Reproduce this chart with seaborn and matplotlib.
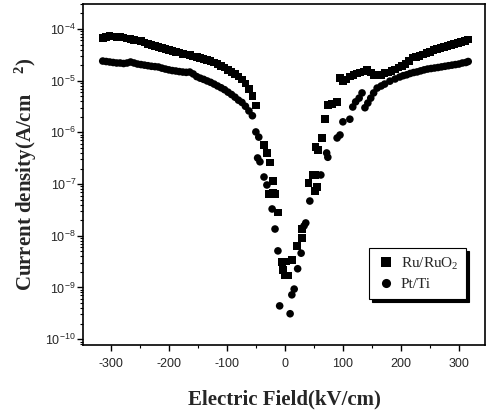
import matplotlib
matplotlib.use('Agg')
import numpy as np
import pandas as pd
import matplotlib.pyplot as plt
import seaborn as sns
from matplotlib.ticker import LogLocator, MultipleLocator, NullFormatter, FixedLocator

# ---- data (field in kV/cm, current density in A/cm^2)
ru_field = [-314, -308, -302, -296, -290, -284, -278, -272, -266, -260, -254, -248,
            -242, -236, -230, -224, -218, -212, -206, -200, -194, -188, -182, -176,
            -170, -164, -158, -152, -146, -140, -134, -128, -122, -116, -110, -104,
            -98, -92, -86, -80, -74, -68, -62, -56, -50,
            -36, -31, -26, -21, -28, -17, -21, -12, -5, 3, 12, -3, -1, 5,
            21, 29, 29, 41, 48, 53, 52, 55, 53, 57, 64, 69, 74, 81, 90,
            95, 100, 106, 112, 118, 124, 130, 136, 142, 148, 154, 160, 166, 172,
            178, 184, 190, 196, 202, 208, 214, 220, 226, 232, 238, 244, 250, 256,
            262, 268, 274, 280, 286, 292, 298, 304, 310, 316]
ru_current = [6.7e-5, 7.1e-5, 7.3e-5, 7.2e-5, 7.0e-5, 7.0e-5, 6.8e-5, 6.6e-5, 6.4e-5, 6.2e-5, 6.0e-5, 5.8e-5,
              5.5e-5, 5.1e-5, 4.9e-5, 4.7e-5, 4.5e-5, 4.3e-5, 4.1e-5, 3.9e-5, 3.8e-5, 3.6e-5, 3.5e-5, 3.3e-5,
              3.2e-5, 3.1e-5, 2.95e-5, 2.85e-5, 2.75e-5, 2.6e-5, 2.5e-5, 2.4e-5, 2.25e-5, 2.1e-5, 1.95e-5, 1.8e-5,
              1.62e-5, 1.48e-5, 1.35e-5, 1.2e-5, 1.05e-5, 8.8e-6, 7.0e-6, 5.0e-6, 3.3e-6,
              5.7e-7, 4.0e-7, 2.6e-7, 1.15e-7, 6.4e-8, 6.4e-8, 6.7e-8, 2.8e-8, 3.1e-9, 3.2e-9, 3.4e-9, 2.2e-9, 1.7e-9, 1.7e-9,
              6.4e-9, 9.1e-9, 1.35e-8, 1.05e-7, 1.5e-7, 1.5e-7, 7.4e-8, 8.8e-8, 5.2e-7, 4.6e-7, 7.8e-7, 1.8e-6, 3.4e-6, 3.5e-6, 3.9e-6,
              1.13e-5, 9.8e-6, 1.05e-5, 1.2e-5, 1.3e-5, 1.38e-5, 1.45e-5, 1.5e-5, 1.6e-5, 1.45e-5, 1.3e-5, 1.25e-5, 1.3e-5, 1.4e-5,
              1.45e-5, 1.55e-5, 1.65e-5, 1.8e-5, 1.95e-5, 2.1e-5, 2.4e-5, 2.8e-5, 2.9e-5, 3.0e-5, 3.2e-5, 3.4e-5, 3.6e-5, 3.9e-5,
              4.1e-5, 4.3e-5, 4.5e-5, 4.7e-5, 4.9e-5, 5.1e-5, 5.4e-5, 5.6e-5, 5.9e-5, 6.3e-5]

pt_field = [-314, -308, -302, -296, -290, -284, -278, -272, -266, -260, -254, -248,
            -242, -236, -230, -224, -218, -212, -206, -200, -194, -188, -182, -176,
            -170, -164, -158, -152, -146, -140, -134, -128, -122, -116, -110, -104,
            -98, -92, -86, -80, -74, -68, -62, -56,
            -50, -45, -47, -43, -36, -31, -22, -17, -12, -9, 9, 12, 16, 22, 28,
            33, 36, 43, 62, 72, 74, 90, 95, 100, 112,
            117, 122, 128, 133, 138, 143, 148, 153, 159,
            166, 172, 181, 190, 198, 204, 210, 216, 222, 228, 234, 240, 246, 252,
            258, 264, 270, 276, 282, 288, 294, 300, 306, 312, 316]
pt_current = [2.4e-5, 2.35e-5, 2.3e-5, 2.25e-5, 2.2e-5, 2.2e-5, 2.15e-5, 2.2e-5, 2.3e-5, 2.2e-5, 2.1e-5, 2.05e-5,
              2.0e-5, 1.95e-5, 1.9e-5, 1.87e-5, 1.84e-5, 1.75e-5, 1.68e-5, 1.62e-5, 1.57e-5, 1.54e-5, 1.5e-5, 1.47e-5,
              1.45e-5, 1.47e-5, 1.35e-5, 1.2e-5, 1.12e-5, 1.06e-5, 9.9e-6, 9.3e-6, 8.6e-6, 7.9e-6, 7.3e-6, 6.7e-6,
              6.0e-6, 5.4e-6, 4.8e-6, 4.2e-6, 3.8e-6, 3.2e-6, 2.6e-6, 2.1e-6,
              1.02e-6, 8.1e-7, 3.2e-7, 2.7e-7, 1.37e-7, 9.6e-8, 3.3e-8, 1.35e-8, 5.1e-9, 4.4e-10, 3.1e-10, 7.2e-10, 9.3e-10, 2.3e-9, 4.6e-9,
              1.55e-8, 1.77e-8, 4.7e-8, 1.5e-7, 4.0e-7, 3.3e-7, 7.8e-7, 8.9e-7, 1.6e-6, 1.8e-6,
              3.1e-6, 3.9e-6, 4.6e-6, 5.8e-6, 3.0e-6, 3.7e-6, 4.6e-6, 5.8e-6, 7.2e-6,
              7.9e-6, 8.6e-6, 9.8e-6, 1.08e-5, 1.18e-5, 1.25e-5, 1.3e-5, 1.38e-5, 1.44e-5, 1.48e-5, 1.55e-5, 1.62e-5, 1.68e-5, 1.72e-5,
              1.76e-5, 1.8e-5, 1.85e-5, 1.9e-5, 1.95e-5, 2.0e-5, 2.05e-5, 2.1e-5, 2.2e-5, 2.25e-5, 2.35e-5]

sample_names = ['Ru/RuO$_2$', 'Pt/Ti']
x_ticks = [-300, -200, -100, 0, 100, 200, 300]
y_ticks = [1e-10, 1e-9, 1e-8, 1e-7, 1e-6, 1e-5, 1e-4]
y_ticklabels = ['10$^{-10}$', '10$^{-9}$', '10$^{-8}$', '10$^{-7}$', '10$^{-6}$', '10$^{-5}$', '10$^{-4}$']

sns.set_style('ticks')
plt.rcParams['font.family'] = ['Liberation Sans', 'DejaVu Sans']
plt.rcParams['mathtext.default'] = 'regular'
plt.rcParams['axes.unicode_minus'] = False

df = pd.DataFrame({
    'field': ru_field + pt_field,
    'current': ru_current + pt_current,
    'sample': [sample_names[0]] * len(ru_field) + [sample_names[1]] * len(pt_field),
})

fig = plt.figure(figsize=(4.86, 4.19), dpi=100)
ax = fig.add_axes([0.1708, 0.1766, 0.8272, 0.8139])

sns.scatterplot(data=df, x='field', y='current', style='sample',
                markers={sample_names[0]: 's', sample_names[1]: 'o'},
                color='black', s=30, linewidth=0, ax=ax)

ax.set_yscale('log')
ax.set_xlim(-348, 345)
ax.set_ylim(7.7e-11, 3.05e-4)

ax.xaxis.set_major_locator(FixedLocator(x_ticks))
ax.set_xticklabels([str(t) for t in x_ticks])
ax.xaxis.set_minor_locator(MultipleLocator(50))
ax.yaxis.set_major_locator(FixedLocator(y_ticks))
ax.set_yticklabels(y_ticklabels)
ax.yaxis.set_minor_locator(LogLocator(base=10, subs=np.arange(2, 10), numticks=20))
ax.yaxis.set_minor_formatter(NullFormatter())

ax.tick_params(axis='both', which='major', direction='out', length=4, width=1, labelsize=9, color='black')
ax.tick_params(axis='both', which='minor', direction='out', length=2.2, width=0.8, color='black')
ax.tick_params(axis='x', which='major', pad=5)
ax.tick_params(axis='y', which='major', pad=1)
for sp in ax.spines.values():
    sp.set_linewidth(1.2)
    sp.set_color('black')

ax.set_xlabel('Electric Field(kV/cm)', family='Liberation Serif', fontweight='bold', fontsize=15)
ax.set_ylabel('Current density(A/cm    $^{2}$)', family='Liberation Serif', fontweight='bold', fontsize=15)
ax.xaxis.set_label_coords(0.502, -0.13)
ax.yaxis.set_label_coords(-0.11, 0.5)

handles, labels = ax.get_legend_handles_labels()
leg = ax.legend(handles, labels, loc='upper left', bbox_to_anchor=(0.711, 0.285), borderaxespad=0,
                prop={'family': 'Liberation Serif', 'size': 11}, markerscale=1.2,
                frameon=True, fancybox=False, shadow={'color': 'black', 'alpha': 1},
                handletextpad=0.4, borderpad=0.5, labelspacing=0.4, handlelength=1.2)
leg.get_frame().set_edgecolor('black')
leg.get_frame().set_linewidth(0.8)

fig.savefig('out.png', dpi=100)
